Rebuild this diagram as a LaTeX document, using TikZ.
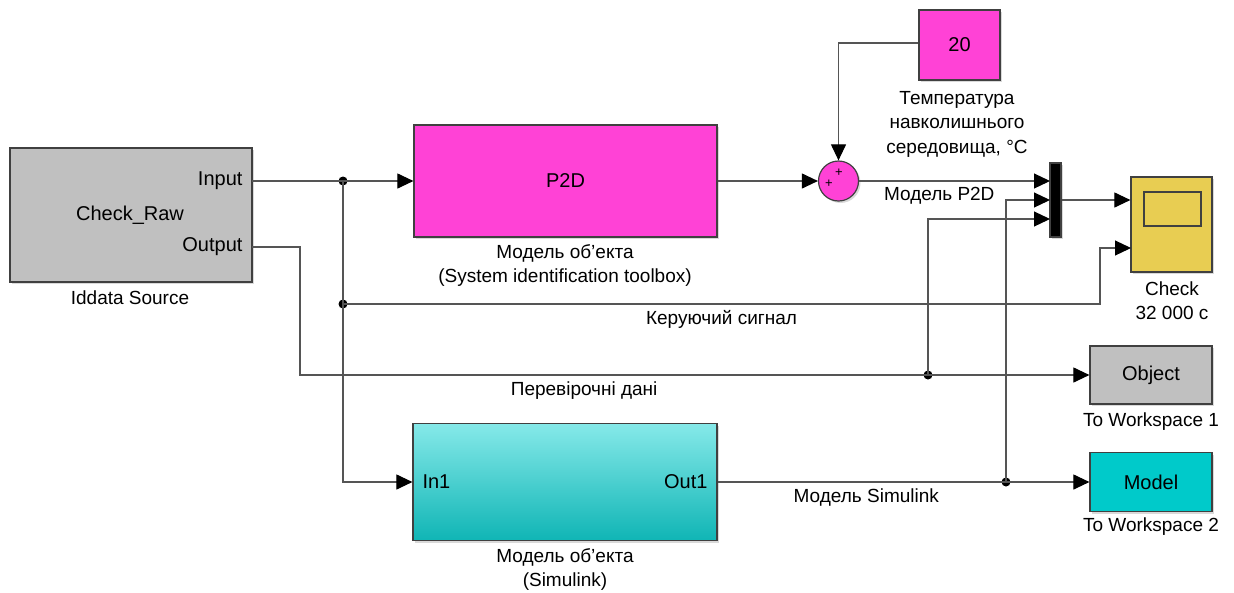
\documentclass[tikz,border=0pt]{standalone}
\usepackage{fontspec}
\setmainfont{Liberation Sans}
\usetikzlibrary{arrows.meta,shadows}
\definecolor{pinkblk}{HTML}{FF42D6}
\definecolor{greyblk}{HTML}{C0C0C0}
\definecolor{scopeblk}{HTML}{E8CD52}
\definecolor{wscyan}{HTML}{00CACA}
\definecolor{simtop}{HTML}{86E9E9}
\definecolor{simbot}{HTML}{0FB5B5}
\definecolor{wire}{HTML}{555555}
\begin{document}
\begin{tikzpicture}[x=1pt, y=-1pt,
    blk/.style={draw=black!75, line width=1.2pt, inner sep=0pt, drop shadow={shadow xshift=2pt, shadow yshift=-2pt, opacity=0.3}},
    sig/.style={draw=wire, line width=1.1pt, -{Triangle[length=16pt,width=15pt,color=black]}},
    wirex/.style={draw=wire, line width=1.1pt},
    dot/.style={circle, fill=black, minimum size=9pt, inner sep=0pt},
    lbl/.style={font=\fontsize{19}{24.5}\selectfont, align=center},
    txt/.style={font=\fontsize{20}{24}\selectfont}]
      \useasboundingbox (0,0) rectangle (1234,592);

      % blocks
      \node[blk, fill=greyblk, minimum width=242pt, minimum height=134pt] (src) at (131,215) {};
      \node[blk, fill=pinkblk, minimum width=303pt, minimum height=112pt, txt] (plant) at (565.5,181) {P2D};
      \node[blk, top color=simtop, bottom color=simbot, minimum width=304pt, minimum height=117pt] (simmod) at (565,482) {};
      \node[blk, fill=pinkblk, minimum width=81pt, minimum height=70pt, txt] (temp) at (959.5,45) {20};
      \node[blk, circle, fill=pinkblk, minimum size=40pt] (sum) at (838.5,181) {};
      \node[blk, fill=black, minimum width=11pt, minimum height=74pt] (mux) at (1055.5,200) {};
      \node[blk, fill=scopeblk, minimum width=81pt, minimum height=95pt] (scope) at (1171.5,224.5) {};
      \node[blk, fill=greyblk, minimum width=122pt, minimum height=58pt, txt] (toobj) at (1151,375) {Object};
      \node[blk, fill=wscyan, minimum width=122pt, minimum height=59pt, txt] (tomodel) at (1151,482) {Model};
      \draw[draw=black!75, line width=1.1pt] (1144,192) rectangle (1201,226);

      % texts in blocks
      \node[txt] (srcname) at (130,215) {Check\_Raw};
      \node[txt, anchor=east] (srcin) at (246,181) {Input};
      \node[txt, anchor=east] (srcout) at (246,247) {Output};
      \node[txt, anchor=west] (simin) at (419,482) {In1};
      \node[txt, anchor=east] (simout) at (711,482) {Out1};
      \node[font=\fontsize{13}{13}\selectfont] (plus1) at (829,184) {+};
      \node[font=\fontsize{13}{13}\selectfont] (plus2) at (839,173) {+};

      % block names
      \node[lbl] (srclbl) at (130,298) {Iddata Source};
      \node[lbl] (plantlbl) at (565,265.5) {Модель об'екта\\(System identification toolbox)};
      \node[lbl] (simlbl) at (565,569.5) {Модель об'екта\\(Simulink)};
      \node[lbl] (templbl) at (957,124) {Температура\\навколишнього\\середовища, °С};
      \node[lbl] (scopelbl) at (1172,300.5) {Check\\32 000 с};
      \node[lbl] (objlbl) at (1151,422) {To Workspace 1};
      \node[lbl] (modlbl) at (1151,527) {To Workspace 2};

      % ports and branch points
      \coordinate (inp) at (252,181);
      \coordinate (outp) at (252,247);
      \coordinate (bend1) at (300,247);
      \coordinate (bend2) at (1100,304);
      \node[dot] (j1) at (343,181) {};
      \node[dot] (j2) at (343,304) {};
      \node[dot] (j3) at (928,375) {};
      \node[dot] (j4) at (1006,482) {};
      \coordinate (mux1) at (1050,181);
      \coordinate (mux2) at (1050,200);
      \coordinate (mux3) at (1050,219);
      \coordinate (scope2) at (1131,248);

      % connectors
      \draw[sig] (inp) -- (plant.west);
      \draw[wirex] (j1.center) -- (j2.center);
      \draw[sig] (j2.center) |- (simmod.west);
      \draw[sig] (j2.center) -- node[lbl, below=3pt, midway]{Керуючий сигнал} (bend2) |- (scope2);
      \draw[sig] (plant.east) -- (sum.west);
      \draw[sig] (temp.west |- 0,43) -| (sum.north);
      \draw[sig] (sum.east) -- node[lbl, below=2pt, pos=0.42]{Модель P2D} (mux1);
      \draw[sig] (mux.east) -- (scope.west |- mux.east);
      \draw[sig] (outp) -- (bend1) |- node[lbl, below=3pt, pos=0.68]{Перевірочні дані} (toobj.west);
      \draw[sig] (j3.center) |- (mux3);
      \draw[sig] (simmod.east |- j4) -- node[lbl, below=3pt, pos=0.4]{Модель Simulink} (tomodel.west);
      \draw[sig] (j4.center) |- (mux2);
    \end{tikzpicture}
\end{document}
